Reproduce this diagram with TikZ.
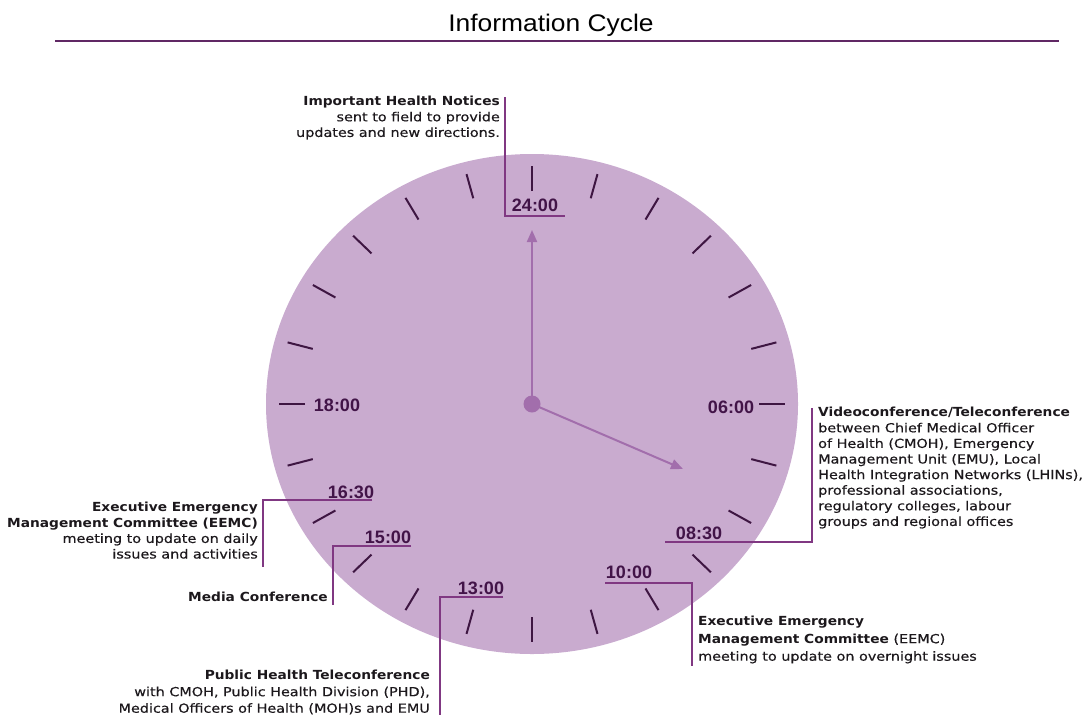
\documentclass[tikz,border=0pt]{standalone}
\usepackage{fontspec}
\setmainfont{Liberation Sans}
\newfontfamily\titlefont{Liberation Sans}[FakeStretch=1.1]
\newfontfamily\notefont{DejaVu Sans}[FakeStretch=1.15, FakeBold=0.4,
  BoldFont={DejaVu Sans Bold}, BoldFeatures={FakeStretch=1.1, FakeBold=0}]
\usetikzlibrary{arrows.meta}
\definecolor{clockfill}{RGB}{201,171,207}
\definecolor{leadcol}{RGB}{128,56,130}
\definecolor{tickcol}{RGB}{62,22,66}
\definecolor{hourcol}{RGB}{66,20,72}
\definecolor{handcol}{RGB}{162,110,172}
\definecolor{titlecol}{RGB}{96,40,100}
\definecolor{notecol}{RGB}{28,24,28}

\begin{document}
\begin{tikzpicture}[x=1pt,y=-1pt,
  titletext/.style={inner sep=0pt, font=\titlefont\fontsize{24}{28}\selectfont},
  titlerule/.style={draw=titlecol, line width=2.2pt},
  clocktick/.style={draw=tickcol, line width=2pt},
  clockhand/.style={draw=handcol, line width=2pt, -{Triangle[length=12pt,width=10pt]}},
  hub/.style={circle, fill=handcol, minimum size=17pt, inner sep=0pt},
  hourlabel/.style={text=hourcol, inner sep=0pt, font=\bfseries\fontsize{18}{20}\selectfont},
  leadline/.style={draw=leadcol, line width=1.8pt},
  notetext/.style={text=notecol, inner sep=0pt, font=\notefont\fontsize{12.5}{15.6}\selectfont},
]
\useasboundingbox (0,0) rectangle (1083,715);

% title
\node[titletext] (title) at (551,25) {Information Cycle};
\coordinate (ruleL) at (55,41);
\coordinate (ruleR) at (1059,41);
\draw[titlerule] (ruleL) -- (ruleR);

% clock face
\coordinate (C) at (532,404);
\fill[clockfill] (C) ellipse [x radius=266, y radius=250];
\foreach \h in {0,...,23}
  \draw[clocktick, shift={(C)}] (-90+15*\h:227 and 213) -- (-90+15*\h:253 and 238);

% hands
\coordinate (tip24) at (532,230);
\coordinate (tipsec) at (683,469);
\draw[clockhand] (C) -- (tip24);
\draw[clockhand] (C) -- (tipsec);
\node[hub] (hubdot) at (C) {};

% hours
\node[hourlabel] (h2400) at (535,205) {24:00};
\node[hourlabel] (h0600) at (731,407) {06:00};
\node[hourlabel] (h1800) at (337,405) {18:00};
\node[hourlabel] (h0830) at (699,533) {08:30};
\node[hourlabel] (h1000) at (629,572) {10:00};
\node[hourlabel] (h1630) at (351,492) {16:30};
\node[hourlabel] (h1500) at (388,537) {15:00};
\node[hourlabel] (h1300) at (481,588) {13:00};

% leader lines
\coordinate (l2400a) at (505,97);
\coordinate (l2400b) at (565,216);
\draw[leadline] (l2400a) |- (l2400b);
\coordinate (l0830a) at (812,408);
\coordinate (l0830b) at (665,542);
\draw[leadline] (l0830a) |- (l0830b);
\coordinate (l1000a) at (605,583);
\coordinate (l1000b) at (692,666);
\draw[leadline] (l1000a) -| (l1000b);
\coordinate (l1630a) at (372,500);
\coordinate (l1630b) at (263,567);
\draw[leadline] (l1630a) -| (l1630b);
\coordinate (l1500a) at (411,546);
\coordinate (l1500b) at (333,605);
\draw[leadline] (l1500a) -| (l1500b);
\coordinate (l1300a) at (503,597);
\coordinate (l1300b) at (440,715);
\draw[leadline] (l1300a) -| (l1300b);

% notes
\node[notetext, anchor=north east, align=right] (notices) at (500,96)
  {\textbf{Important Health Notices}\\ sent to field to provide\\ updates and new directions.};
\node[notetext, anchor=north west, align=left] (video) at (818,407)
  {\textbf{Videoconference/Teleconference}\\ between Chief Medical Officer\\ of Health (CMOH), Emergency\\
   Management Unit (EMU), Local\\ Health Integration Networks (LHINs),\\ professional associations,\\
   regulatory colleges, labour\\ groups and regional offices};
\node[notetext, anchor=north west, align=left, font=\notefont\fontsize{12.5}{17.5}\selectfont] (eemcam) at (698,616)
  {\textbf{Executive Emergency}\\ \textbf{Management Committee} (EEMC)\\ meeting to update on overnight issues};
\node[notetext, anchor=north east, align=right] (eemcpm) at (258,502)
  {\textbf{Executive Emergency}\\ \textbf{Management Committee (EEMC)}\\ meeting to update on daily\\ issues and activities};
\node[notetext, anchor=east] (media) at (328,597) {\textbf{Media Conference}};
\node[notetext, anchor=north east, align=right, font=\notefont\fontsize{12.5}{16.5}\selectfont] (publichealth) at (430,670)
  {\textbf{Public Health Teleconference}\\ with CMOH, Public Health Division (PHD),\\ Medical Officers of Health (MOH)s and EMU};
\end{tikzpicture}
\end{document}
